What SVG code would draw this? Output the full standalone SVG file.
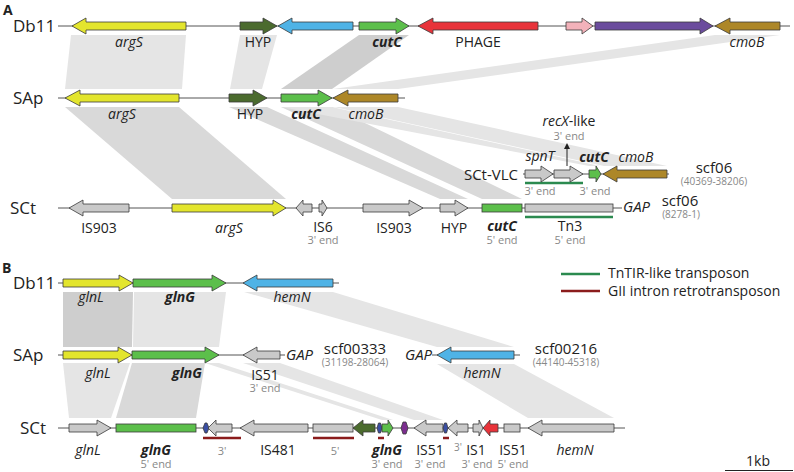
<svg xmlns="http://www.w3.org/2000/svg" width="794" height="472" viewBox="0 0 794 472">
<style>
text{font-family:"Open Sans","DejaVu Sans",sans-serif;fill:#222}
.row{font-size:17px}
.lab{font-size:14px;text-anchor:middle}
.it{font-style:italic}
.bi{font-style:italic;font-weight:bold}
.sub{font-size:11px;fill:#888;text-anchor:middle}
.coord{font-size:10px;fill:#888;text-anchor:middle}
.scf{font-size:15px;text-anchor:middle}
.panel{font-size:14px;font-weight:bold}
.bb{stroke:#555;stroke-width:1;fill:none}
.g path,.g rect,.g polygon{stroke:#3a3a3a;stroke-width:0.8}
.yel{fill:#e3e52d}.dgr{fill:#4b6b2e}.blu{fill:#4fb3e6}.grn{fill:#5cbf4b}.red{fill:#e8333a}
.pnk{fill:#f3b2ba}.pur{fill:#6b4c9d}.brn{fill:#ad8728}.gry{fill:#c9c9c9}.nav{fill:#3a4ea3}.vio{fill:#7b2d8e}
.s1{fill:#e5e5e5}.s2{fill:#d9d9d9}.s3{fill:#cecece}
.tn{stroke:#2b8a4f;stroke-width:2.5}
.gii{stroke:#8b1c1c;stroke-width:2.5}
</style>
<defs>
<marker id="up" viewBox="0 0 6 6" refX="3" refY="3" markerWidth="6" markerHeight="6" orient="auto"><path d="M0,0 L6,3 L0,6 Z" fill="#222"/></marker>
</defs>

<text class="panel" x="3" y="15">A</text>
<text class="panel" x="2" y="273">B</text>

<g id="links">
<polygon class="s1" points="71,35 186,35 182,89 65,89"/>
<polygon class="s1" points="240,35 277,35 262,89 230,89"/>
<polygon class="s3" points="359,35 409,35 332,89 281,89"/>
<polygon class="s1" points="715,35 780,35 398,89 333,89"/>
<polygon class="s2" points="65,107 179,107 286,199 172,199"/>
<polygon class="s2" points="229,107 267,107 468,199 440,199"/>
<polygon class="s2" points="281,107 332,107 522,199 482,199"/>
<polygon class="s1" points="281,107 332,107 600,166 589,166"/>
<polygon class="s1" points="334,107 398,107 667,166 604,166"/>
<polygon class="s3" points="63,292 133,292 132,347 63,347"/>
<polygon class="s1" points="134,292 226,292 219,347 133,347"/>
<polygon class="s1" points="244,292 333,292 514,347 437,347"/>
<polygon class="s1" points="63,363 130,363 111,418 69,418"/>
<polygon class="s2" points="132,363 205,363 196,418 116,418"/>
<polygon class="s1" points="205,363 219,363 393,420 382,420"/>
<polygon class="s1" points="243,363 280,363 443,420 414,420"/>
<polygon class="s1" points="437,364 514,364 614,418 528,418"/>
</g>

<g id="backbones">
<line class="bb" x1="58" y1="26" x2="790" y2="26"/>
<line class="bb" x1="58" y1="98" x2="405" y2="98"/>
<line class="bb" x1="58" y1="208" x2="622" y2="208"/>
<line class="bb" x1="523" y1="174" x2="669" y2="174"/>
<line class="bb" x1="58" y1="283" x2="339" y2="283"/>
<line class="bb" x1="58" y1="355" x2="285" y2="355"/>
<line class="bb" x1="432" y1="355" x2="520" y2="355"/>
<line class="bb" x1="58" y1="428" x2="625" y2="428"/>
</g>

<g id="transposon-marks">
<line class="tn" x1="525" y1="217" x2="613" y2="217"/>
<line class="tn" x1="525" y1="183" x2="583" y2="183"/>
<line class="gii" x1="203" y1="438" x2="241" y2="438"/>
<line class="gii" x1="313" y1="438" x2="354" y2="438"/>
<line class="gii" x1="378" y1="438" x2="384" y2="438"/>
<line class="gii" x1="443" y1="438" x2="449" y2="438"/>
</g>

<!-- Panel A rows -->
<text class="row" x="13" y="32">Db11</text>
<text class="row" x="13" y="104">SAp</text>
<text class="row" x="10" y="214">SCt</text>
<text class="row" x="518" y="180" style="font-size:15px;text-anchor:end">SCt-VLC</text>

<g id="A-Db11-argS" class="g"><path class="yel" d="M186,22 L86,22 L86,18 L72,26 L86,34 L86,30 L186,30 Z"/><text class="lab it" x="129" y="47">argS</text></g>
<g id="A-Db11-HYP" class="g"><path class="dgr" d="M240,22 L263,22 L263,18 L277,26 L263,34 L263,30 L240,30 Z"/><text class="lab" x="258" y="47">HYP</text></g>
<g id="A-Db11-blue" class="g"><path class="blu" d="M353,22 L292,22 L292,18 L278,26 L292,34 L292,30 L353,30 Z"/></g>
<g id="A-Db11-cutC" class="g"><path class="grn" d="M359,22 L396,22 L396,18 L409,26 L396,34 L396,30 L359,30 Z"/><text class="lab bi" x="387" y="47">cutC</text></g>
<g id="A-Db11-PHAGE" class="g"><path class="red" d="M538,22 L433,22 L433,18 L418,26 L433,34 L433,30 L538,30 Z"/><text class="lab" x="478" y="47">PHAGE</text></g>
<g id="A-Db11-pink" class="g"><path class="pnk" d="M566,22 L582,22 L582,18 L593,26 L582,34 L582,30 L566,30 Z"/></g>
<g id="A-Db11-purple" class="g"><path class="pur" d="M595,22 L700,22 L700,18 L713,26 L700,34 L700,30 L595,30 Z"/></g>
<g id="A-Db11-cmoB" class="g"><path class="brn" d="M780,22 L730,22 L730,18 L715,26 L730,34 L730,30 L780,30 Z"/><text class="lab it" x="747" y="47">cmoB</text></g>

<g id="A-SAp-argS" class="g"><path class="yel" d="M179,94 L80,94 L80,90 L65,98 L80,106 L80,102 L179,102 Z"/><text class="lab it" x="122" y="119">argS</text></g>
<g id="A-SAp-HYP" class="g"><path class="dgr" d="M229,94 L253,94 L253,90 L267,98 L253,106 L253,102 L229,102 Z"/><text class="lab" x="250" y="119">HYP</text></g>
<g id="A-SAp-cutC" class="g"><path class="grn" d="M281,94 L318,94 L318,90 L332,98 L318,106 L318,102 L281,102 Z"/><text class="lab bi" x="306" y="119">cutC</text></g>
<g id="A-SAp-cmoB" class="g"><path class="brn" d="M398,94 L348,94 L348,90 L333,98 L348,106 L348,102 L398,102 Z"/><text class="lab it" x="366" y="119">cmoB</text></g>

<g id="A-SCt-IS903a" class="g"><path class="gry" d="M129,204 L83,204 L83,200 L69,208 L83,216 L83,212 L129,212 Z"/><text class="lab" x="99" y="233">IS903</text></g>
<g id="A-SCt-argS" class="g"><path class="yel" d="M172,204 L273,204 L273,200 L286,208 L273,216 L273,212 L172,212 Z"/><text class="lab it" x="229" y="233">argS</text></g>
<g id="A-SCt-IS6" class="g"><path class="gry" d="M312,204 L303,204 L303,200 L296,208 L303,216 L303,212 L312,212 Z"/><path class="gry" d="M319,204 L322,204 L322,200 L327,208 L322,216 L322,212 L319,212 Z"/><text class="lab" x="323" y="232">IS6</text><text class="sub" x="323" y="244">3' end</text></g>
<g id="A-SCt-IS903b" class="g"><path class="gry" d="M363,204 L409,204 L409,200 L423,208 L409,216 L409,212 L363,212 Z"/><text class="lab" x="394" y="233">IS903</text></g>
<g id="A-SCt-HYP" class="g"><path class="gry" d="M440,204 L455,204 L455,200 L468,208 L455,216 L455,212 L440,212 Z"/><text class="lab" x="454" y="233">HYP</text></g>
<g id="A-SCt-cutC" class="g"><rect class="grn" x="482" y="204" width="40" height="8"/><text class="lab bi" x="502" y="231">cutC</text><text class="sub" x="502" y="244">5' end</text></g>
<g id="A-SCt-Tn3" class="g"><rect class="gry" x="525" y="204" width="88" height="8"/><text class="lab" x="570" y="231">Tn3</text><text class="sub" x="570" y="244">5' end</text></g>
<g id="A-SCt-GAP"><text class="it" x="623" y="212" style="font-size:15px">GAP</text></g>
<g id="A-SCt-scf"><text class="scf" x="680" y="206">scf06</text><text class="coord" x="681" y="218">(8278-1)</text></g>

<g id="A-VLC-spnT" class="g"><path class="gry" d="M525,170 L541,170 L541,166 L553,174 L541,182 L541,178 L525,178 Z"/><text class="lab it" x="540" y="161">spnT</text><text class="sub" x="540" y="195">3' end</text></g>
<g id="A-VLC-recX" class="g"><path class="gry" d="M554,170 L570,170 L570,166 L583,174 L570,182 L570,178 L554,178 Z"/><line x1="567" y1="166" x2="567" y2="146" stroke="#222" stroke-width="1" marker-end="url(#up)"/><text class="lab" x="569" y="126"><tspan class="it">recX</tspan>-like</text><text class="sub" x="569" y="140">3' end</text><text class="sub" x="595" y="195">3' end</text></g>
<g id="A-VLC-cutC" class="g"><path class="grn" d="M589,170 L596,170 L596,166 L601,174 L596,182 L596,178 L589,178 Z"/><text class="lab bi" x="594" y="162">cutC</text></g>
<g id="A-VLC-cmoB" class="g"><path class="brn" d="M667,170 L617,170 L617,166 L603,174 L617,182 L617,178 L667,178 Z"/><text class="lab it" x="636" y="162">cmoB</text></g>
<g id="A-VLC-scf"><text class="scf" x="714" y="173">scf06</text><text class="coord" x="714" y="185">(40369-38206)</text></g>

<!-- Legend -->
<g id="legend">
<line class="tn" x1="561" y1="274" x2="600" y2="274"/>
<text x="608" y="278" style="font-size:14px">TnTIR-like transposon</text>
<line class="gii" x1="561" y1="291" x2="600" y2="291"/>
<text x="608" y="296" style="font-size:14px">GII intron retrotransposon</text>
</g>

<!-- Panel B rows -->
<text class="row" x="13" y="289">Db11</text>
<text class="row" x="13" y="361">SAp</text>
<text class="row" x="20" y="434">SCt</text>

<g id="B-Db11-glnL" class="g"><path class="yel" d="M63,279 L119,279 L119,275 L133,283 L119,291 L119,287 L63,287 Z"/><text class="lab it" x="91" y="302">glnL</text></g>
<g id="B-Db11-glnG" class="g"><path class="grn" d="M133,279 L212,279 L212,275 L226,283 L212,291 L212,287 L133,287 Z"/><text class="lab bi" x="180" y="302">glnG</text></g>
<g id="B-Db11-hemN" class="g"><path class="blu" d="M333,279 L257,279 L257,275 L243,283 L257,291 L257,287 L333,287 Z"/><text class="lab it" x="292" y="302">hemN</text></g>

<g id="B-SAp-glnL" class="g"><path class="yel" d="M63,351 L118,351 L118,347 L132,355 L118,363 L118,359 L63,359 Z"/><text class="lab it" x="98" y="378">glnL</text></g>
<g id="B-SAp-glnG" class="g"><path class="grn" d="M132,351 L205,351 L205,347 L219,355 L205,363 L205,359 L132,359 Z"/><text class="lab bi" x="187" y="378">glnG</text></g>
<g id="B-SAp-IS51" class="g"><path class="gry" d="M280,351 L257,351 L257,347 L243,355 L257,363 L257,359 L280,359 Z"/><text class="lab" x="265" y="380">IS51</text><text class="sub" x="265" y="392">3' end</text></g>
<g id="B-SAp-GAP1"><text class="it" x="286" y="360" style="font-size:15px">GAP</text></g>
<g id="B-SAp-scf1"><text class="scf" x="355" y="354">scf00333</text><text class="coord" x="355" y="366">(31198-28064)</text></g>
<g id="B-SAp-GAP2"><text class="it" x="405" y="360" style="font-size:15px">GAP</text></g>
<g id="B-SAp-hemN" class="g"><path class="blu" d="M514,351 L451,351 L451,347 L437,355 L451,363 L451,359 L514,359 Z"/><text class="lab it" x="482" y="378">hemN</text></g>
<g id="B-SAp-scf2"><text class="scf" x="566" y="354">scf00216</text><text class="coord" x="566" y="366">(44140-45318)</text></g>

<g id="B-SCt-glnL" class="g"><path class="gry" d="M69,424 L97,424 L97,420 L111,428 L97,436 L97,432 L69,432 Z"/><text class="lab it" x="88" y="455">glnL</text></g>
<g id="B-SCt-glnG5" class="g"><rect class="grn" x="116" y="424" width="80" height="8"/><text class="lab bi" x="156" y="455">glnG</text><text class="sub" x="156" y="468">5' end</text></g>
<g id="B-SCt-intron3" class="g"><polygon class="nav" points="203,428 205,423 207,423 209,428 207,433 205,433"/><path class="gry" d="M232,424 L216,424 L216,420 L208,428 L216,436 L216,432 L232,432 Z"/><text class="sub" x="222" y="455">3'</text></g>
<g id="B-SCt-IS481" class="g"><path class="gry" d="M308,424 L254,424 L254,420 L240,428 L254,436 L254,432 L308,432 Z"/><text class="lab" x="278" y="455">IS481</text></g>
<g id="B-SCt-intron5" class="g"><rect class="gry" x="313" y="424" width="40" height="8"/><text class="sub" x="335" y="455">5'</text></g>
<g id="B-SCt-dgreen" class="g"><path class="dgr" d="M375,424 L363,424 L363,420 L353,428 L363,436 L363,432 L375,432 Z"/></g>
<g id="B-SCt-glnG3" class="g"><polygon class="nav" points="377,428 378.5,423 380.5,423 382,428 380.5,433 378.5,433"/><path class="grn" d="M382,424 L388,424 L388,420 L393,428 L388,436 L388,432 L382,432 Z"/><text class="lab bi" x="387" y="455">glnG</text><text class="sub" x="387" y="468">3' end</text></g>
<g id="B-SCt-purple" class="g"><polygon class="vio" points="401,428 403,422 406,422 408,428 406,434 403,434"/></g>
<g id="B-SCt-IS51a" class="g"><path class="gry" d="M443,424 L426,424 L426,420 L414,428 L426,436 L426,432 L443,432 Z"/><polygon class="nav" points="443,428 444.5,423 446.5,423 448,428 446.5,433 444.5,433"/><text class="lab" x="430" y="455">IS51</text><text class="sub" x="430" y="468">3' end</text></g>
<g id="B-SCt-IS1" class="g"><path class="gry" d="M468,424 L457,424 L457,420 L448,428 L457,436 L457,432 L468,432 Z"/><path class="gry" d="M473,424 L479,424 L479,420 L483,428 L479,436 L479,432 L473,432 Z"/><text class="sub" x="458" y="451" style="font-size:10px">3'</text><text class="lab" x="476" y="455">IS1</text><text class="sub" x="477" y="468">3' end</text></g>
<g id="B-SCt-red" class="g"><path class="red" d="M498,424 L490,424 L490,420 L483,428 L490,436 L490,432 L498,432 Z"/></g>
<g id="B-SCt-IS51b" class="g"><rect class="gry" x="504" y="424" width="16" height="8"/><text class="lab" x="513" y="455">IS51</text><text class="sub" x="513" y="468">5' end</text></g>
<g id="B-SCt-hemN" class="g"><path class="gry" d="M614,424 L542,424 L542,420 L528,428 L542,436 L542,432 L614,432 Z"/><text class="lab it" x="575" y="455">hemN</text></g>

<g id="scale"><line x1="725" y1="470.5" x2="793" y2="470.5" stroke="#222" stroke-width="1"/><text class="lab" x="758" y="466">1kb</text></g>
</svg>
